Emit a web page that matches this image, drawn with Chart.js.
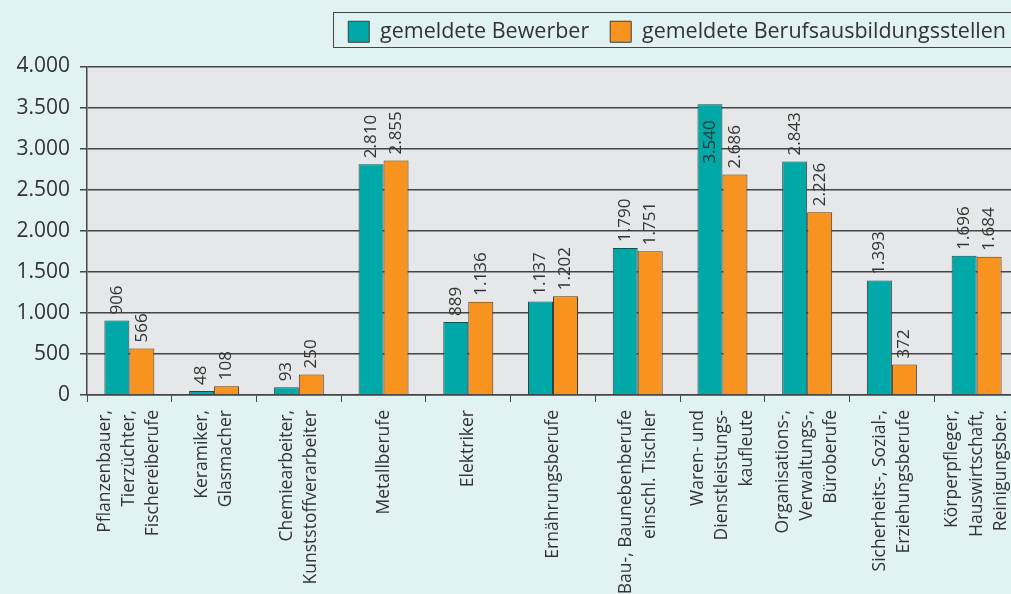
<!DOCTYPE html>
<html>
<head>
<meta charset="utf-8">
<script src="https://cdn.jsdelivr.net/npm/chart.js@4.4.0/dist/chart.umd.min.js"></script>
<style>
  html, body { margin: 0; padding: 0; background: #e0f2f2; overflow: hidden; }
  #wrap { position: relative; width: 1022px; height: 594px; }
</style>
</head>
<body>
<div id="wrap"><canvas id="chart"></canvas></div>
<script>
// Berufsbereiche (mehrzeilige Beschriftung)
const categories = [
    ['Pflanzenbauer,', 'Tierzüchter,', 'Fischereiberufe'],
    ['Keramiker,', 'Glasmacher'],
    ['Chemiearbeiter,', 'Kunststoffverarbeiter'],
    'Metallberufe',
    'Elektriker',
    'Ernährungsberufe',
    ['Bau-, Baunebenberufe', 'einschl. Tischler'],
    ['Waren- und', 'Dienstleistungs-', 'kaufleute'],
    ['Organisations-,', 'Verwaltungs-,', 'Büroberufe'],
    ['Sicherheits-, Sozial-,', 'Erziehungsberufe'],
    ['Körperpfleger,', 'Hauswirtschaft,', 'Reinigungsber.']
];
const bewerber = [906, 48, 93, 2810, 889, 1137, 1790, 3540, 2843, 1393, 1696];
const stellen = [566, 108, 250, 2855, 1136, 1202, 1751, 2686, 2226, 372, 1684];

const FONT = '"Open Sans", sans-serif';
const TEXT = '#333333';
const LINE = '#454545';

// 1234 -> "1.234"
const fmt = (v) => String(v).replace(/\B(?=(\d{3})+(?!\d))/g, '.');

// grey plot area
const plotBg = {
    id: 'plotBg',
    beforeDraw(chart) {
        const { ctx, chartArea: a } = chart;
        ctx.save();
        ctx.fillStyle = '#e6e7e8';
        ctx.fillRect(a.left, a.top, a.right - a.left, a.bottom - a.top);
        ctx.restore();
    }
};

// extra room below the legend + centre the multi-line x labels on their category
const layoutTweaks = {
    id: 'layoutTweaks',
    beforeLayout(chart) {
        const lg = chart.legend;
        if (lg && !lg._patched) {
            const fit = lg.fit;
            lg.fit = function () { fit.call(this); this.height += 14; };
            lg._patched = true;
        }
    },
    afterLayout(chart) {
        // nudge legend items a bit to the right
        chart.legend.left += 8;
        chart.legend.right += 8;
    },
    beforeDraw(chart) {
        const items = chart.scales.x.getLabelItems();
        items.forEach((it) => {
            if (it._shifted) return;
            const lines = Array.isArray(it.label) ? it.label.length : 1;
            it.options.translation[0] -= (lines - 1) / 2 * it.font.lineHeight;
            it._shifted = true;
        });
    }
};

// rotated value labels above each bar (inside if no room)
const valueLabels = {
    id: 'valueLabels',
    afterDatasetsDraw(chart) {
        const ctx = chart.ctx;
        const top = chart.chartArea.top;
        ctx.save();
        ctx.font = '17px ' + FONT;
        ctx.fillStyle = TEXT;
        ctx.textBaseline = 'middle';
        chart.data.datasets.forEach((ds, i) => {
            chart.getDatasetMeta(i).data.forEach((bar, j) => {
                const txt = fmt(ds.data[j]);
                const w = ctx.measureText(txt).width;
                ctx.save();
                ctx.translate(bar.x, bar.y);
                ctx.rotate(-Math.PI / 2);
                if (bar.y - 6 - w < top) {
                    ctx.textAlign = 'right';
                    ctx.fillText(txt, -16, 0);
                } else {
                    ctx.textAlign = 'left';
                    ctx.fillText(txt, 6, 0);
                }
                ctx.restore();
            });
        });
        ctx.restore();
    }
};

// frame around the legend
const legendFrame = {
    id: 'legendFrame',
    afterDraw(chart) {
        const lg = chart.legend;
        if (!lg || !lg.legendHitBoxes.length) return;
        const ctx = chart.ctx;
        const x = lg.legendHitBoxes[0].left - 15;
        ctx.save();
        ctx.strokeStyle = LINE;
        ctx.lineWidth = 1;
        ctx.strokeRect(Math.round(x) + 0.5, 12.5, chart.width, 35);
        ctx.restore();
    }
};

new Chart(document.getElementById('chart'), {
    type: 'bar',
    data: {
        labels: categories,
        datasets: [
            {
                label: 'gemeldete Bewerber',
                data: bewerber,
                backgroundColor: '#00a8a8',
                borderColor: '#3d3d3d',
                borderWidth: 1
            },
            {
                label: 'gemeldete Berufsausbildungsstellen',
                data: stellen,
                backgroundColor: '#f7931e',
                borderColor: '#3d3d3d',
                borderWidth: 1
            }
        ]
    },
    options: {
        responsive: true,
        maintainAspectRatio: false,
        animation: false,
        layout: { padding: { top: 0, right: 3, left: 0, bottom: 0 } },
        datasets: { bar: { categoryPercentage: 0.59, barPercentage: 1.0 } },
        plugins: {
            legend: {
                position: 'top',
                align: 'end',
                labels: {
                    font: { family: FONT, size: 21.5 },
                    color: TEXT,
                    boxWidth: 21,
                    boxHeight: 21,
                    padding: 21
                }
            },
            tooltip: { enabled: false }
        },
        scales: {
            x: {
                offset: true,
                grid: {
                    offset: true,
                    drawOnChartArea: false,
                    drawTicks: true,
                    tickLength: 7,
                    color: LINE,
                    lineWidth: 1
                },
                border: { color: LINE, width: 1.5 },
                ticks: {
                    minRotation: 90,
                    maxRotation: 90,
                    autoSkip: false,
                    padding: 8,
                    color: TEXT,
                    font: { family: FONT, size: 17.5, lineHeight: 1.38 }
                },
                afterFit(scale) {
                    scale.height = 199;
                    scale.paddingLeft = 0;
                    scale.paddingRight = 0;
                }
            },
            y: {
                min: 0,
                max: 4000,
                grid: {
                    color: LINE,
                    lineWidth: 1.5,
                    tickLength: 7
                },
                border: { color: LINE, width: 1.5 },
                ticks: {
                    stepSize: 500,
                    padding: 10,
                    color: TEXT,
                    font: { family: FONT, size: 21 },
                    callback: (v) => fmt(v)
                },
                afterFit(scale) { scale.width = 87; }
            }
        }
    },
    plugins: [plotBg, layoutTweaks, valueLabels, legendFrame]
});
</script>
</body>
</html>
